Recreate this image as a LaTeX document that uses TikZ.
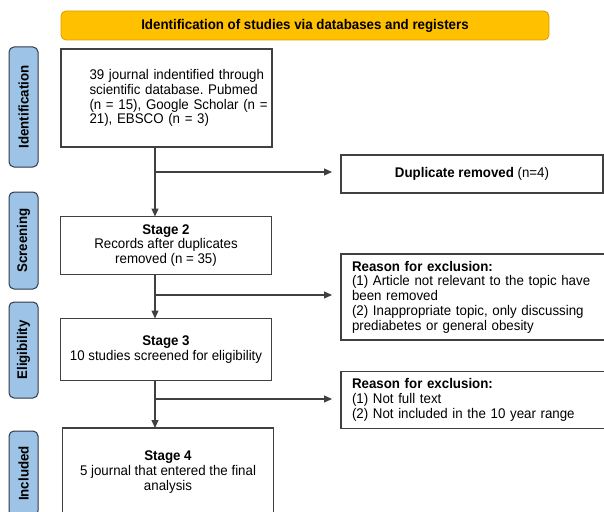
\documentclass[tikz,border=0pt]{standalone}
\usepackage{fontspec}
\setmainfont{Liberation Sans}[FakeStretch=0.95]
\usetikzlibrary{arrows.meta, positioning}
\definecolor{headeryellow}{RGB}{255,192,0}
\definecolor{headerline}{RGB}{214,160,0}
\definecolor{phaseblue}{RGB}{157,195,230}
\definecolor{phaseline}{RGB}{47,56,72}
\definecolor{boxline}{RGB}{64,64,64}
\newcommand{\diagfont}{\fontsize{14}{14.8}\selectfont}
\frenchspacing

\begin{document}
\begin{tikzpicture}[
  x=1pt, y=-1pt,
  stage/.style={rectangle, draw=boxline, line width=1.2pt, minimum width=211pt, align=center, font=\diagfont, inner sep=0pt, outer sep=0pt},
  reason/.style={rectangle, draw=boxline, line width=1.2pt, minimum width=280pt, text width=258pt, align=left, font=\diagfont, inner sep=0pt, outer sep=0pt},
  phase/.style={rectangle, rounded corners=5pt, draw=phaseline, line width=1pt, fill=phaseblue, rotate=90, minimum height=29pt, font=\diagfont\bfseries, inner sep=0pt},
  arrow/.style={-{Triangle[length=8pt,width=7pt]}, line width=1.1pt, draw=boxline}
]
  \useasboundingbox (0,0) rectangle (604,511);

  % header and phase labels
  \node[rectangle, rounded corners=5pt, fill=headeryellow, draw=headerline, line width=0.8pt, minimum width=488pt, minimum height=29pt, font=\diagfont\bfseries] (hdr) at (305,25.5) {Identification of studies via databases and registers};
  \node[phase, minimum width=120pt] (idbar) at (23.5,107) {Identification};
  \node[phase, minimum width=97pt] (scrbar) at (23.5,240.5) {Screening};
  \node[phase, minimum width=96pt] (eligbar) at (23.5,350) {Eligibility};
  \node[phase, minimum width=85pt] (inclbar) at (23.5,473.5) {Included};

  % stages
  \node[stage, minimum height=98pt, label={[xshift=15pt, text width=184pt, align=left, inner sep=0pt, font=\diagfont]center:{39 journal indentified through\\scientific database. Pubmed\\(n = 15), Google Scholar (n =\\21), EBSCO (n = 3)}}] (s1) at (166.5,98) {};
  \node[stage, minimum height=58pt] (s2) at (166,245.5) {\textbf{Stage 2}\\Records after duplicates\\removed (n = 35)};
  \node[stage, minimum height=62pt] (s3) at (166,349.5) {\textbf{Stage 3}\\10 studies screened for eligibility};
  \node[stage, minimum height=88pt] (s4) at (168,472) {\textbf{Stage 4}\\5 journal that entered the final\\analysis};

  % removed records
  \node[stage, minimum width=262pt, minimum height=38pt] (dup) at (472,174) {\textbf{Duplicate removed} (n=4)};
  \node[reason, minimum height=86pt] (excl1) at (481,297) {\textbf{Reason for exclusion:}\\(1) Article not relevant to the topic have\\been removed\\(2) Inappropriate topic, only discussing\\prediabetes or general obesity};
  \node[reason, minimum height=57pt] (excl2) at (481,400) {\textbf{Reason for exclusion:}\\(1) Not full text\\(2) Not included in the 10 year range};

  \coordinate (j1) at (155,172);
  \coordinate (j2) at (155,295);
  \coordinate (j3) at (155,399);

  \draw[arrow] (s1.south -| j1) -- (s2.north -| j1);
  \draw[arrow] (s2.south -| j2) -- (s3.north -| j2);
  \draw[arrow] (s3.south -| j3) -- (s4.north -| j3);
  \draw[arrow, shorten >=9pt] (j1) -- (j1 -| dup.west);
  \draw[arrow, shorten >=9pt] (j2) -- (j2 -| excl1.west);
  \draw[arrow, shorten >=9pt] (j3) -- (j3 -| excl2.west);
\end{tikzpicture}
\end{document}
